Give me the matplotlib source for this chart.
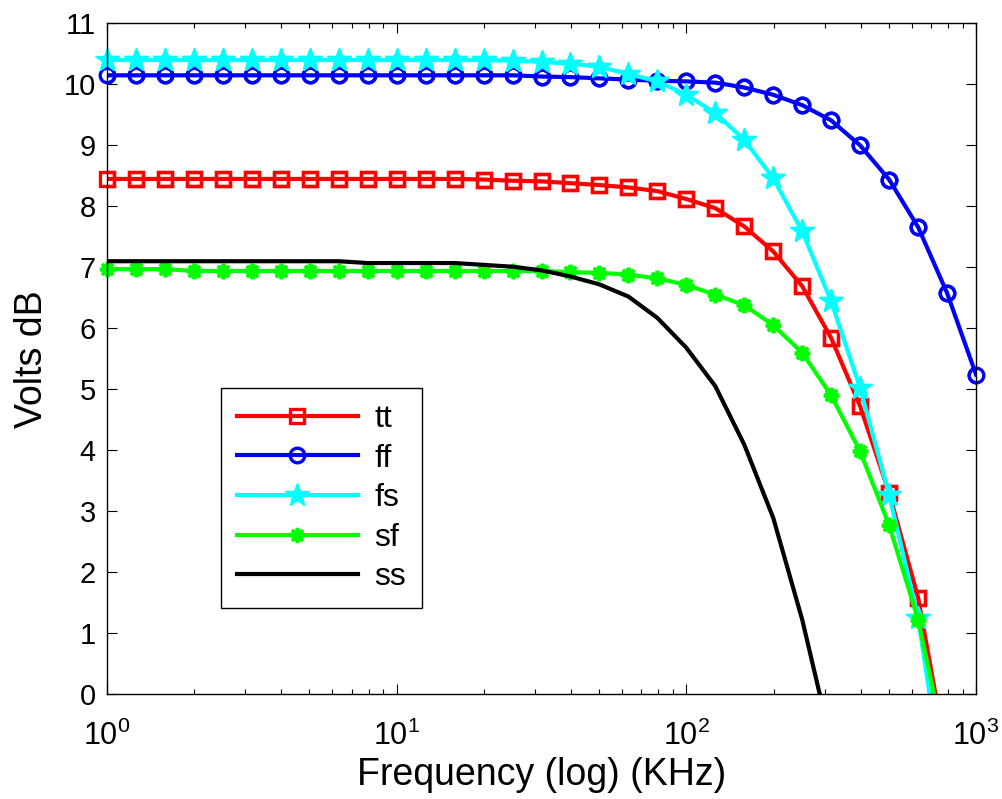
import numpy as np
import matplotlib
matplotlib.use('Agg')
import matplotlib.pyplot as plt
from matplotlib.ticker import LogLocator, NullFormatter

plt.rcParams['font.family'] = ['Liberation Sans', 'DejaVu Sans']
plt.rcParams['mathtext.fontset'] = 'custom'
plt.rcParams['mathtext.rm'] = 'Liberation Sans'
plt.rcParams['mathtext.it'] = 'Liberation Sans:italic'

# frequency points (KHz), 10 per decade
freq = [1.0, 1.259, 1.585, 1.995, 2.512, 3.162, 3.981, 5.012, 6.310, 7.943,
        10.0, 12.59, 15.85, 19.95, 25.12, 31.62, 39.81, 50.12, 63.10, 79.43,
        100.0, 125.9, 158.5, 199.5, 251.2, 316.2, 398.1, 501.2, 631.0, 794.3,
        1000.0]

tt = [8.45, 8.45, 8.45, 8.45, 8.45, 8.45, 8.45, 8.45, 8.45, 8.45,
      8.45, 8.45, 8.45, 8.44, 8.42, 8.41, 8.38, 8.35, 8.31, 8.25,
      8.12, 7.97, 7.67, 7.26, 6.69, 5.84, 4.72, 3.30, 1.58, -1.05]
ff = [10.15, 10.15, 10.15, 10.15, 10.15, 10.15, 10.15, 10.15, 10.15, 10.15,
      10.15, 10.15, 10.15, 10.15, 10.15, 10.13, 10.12, 10.10, 10.08, 10.06,
      10.05, 10.03, 9.95, 9.83, 9.66, 9.41, 9.00, 8.44, 7.66, 6.58,
      5.24]
fs = [10.40, 10.40, 10.40, 10.40, 10.40, 10.40, 10.40, 10.40, 10.40, 10.40,
      10.40, 10.40, 10.40, 10.40, 10.39, 10.37, 10.34, 10.29, 10.17, 10.05,
      9.83, 9.53, 9.09, 8.46, 7.59, 6.44, 5.02, 3.27, 1.25, -1.9]
sf = [6.97, 6.97, 6.97, 6.94, 6.94, 6.94, 6.94, 6.94, 6.94, 6.94,
      6.94, 6.94, 6.94, 6.94, 6.94, 6.94, 6.92, 6.91, 6.88, 6.82,
      6.71, 6.55, 6.38, 6.05, 5.60, 4.90, 3.98, 2.77, 1.22, -1.0]
ss = [7.10, 7.10, 7.10, 7.10, 7.10, 7.10, 7.10, 7.10, 7.10, 7.07,
      7.07, 7.07, 7.07, 7.04, 7.01, 6.95, 6.85, 6.72, 6.52, 6.17,
      5.68, 5.05, 4.09, 2.89, 1.22, -0.8]

fig = plt.figure(figsize=(10.03, 7.99), dpi=100)
ax = fig.add_axes([0.1067, 0.1314, 0.8664, 0.8392])

lw = 3.0
series = [
    ('tt', tt, 'red', dict(marker='s', ms=10, mfc='none', mew=2.4)),
    ('ff', ff, 'blue', dict(marker='o', ms=10.5, mfc='none', mew=2.4)),
    ('fs', fs, 'cyan', dict(marker='*', ms=18, mew=1)),
    ('sf', sf, 'lime', dict(marker=(8, 2, 0), ms=11, mew=2.6)),
    ('ss', ss, 'black', dict()),
]
for name, vals, col, mk in series:
    x = np.array(freq[:len(vals)])
    y = np.array(vals)
    ax.plot(x, y, color=col, lw=lw, mec=col, label=name, **mk)
    if mk:
        # MATLAB does not clip markers at the axes edge
        m = y >= 0
        ax.plot(x[m], y[m], ls='none', mec=col, color=col, clip_on=False, **mk)

ax.set_xscale('log')
ax.set_xlim(1, 1000)
ax.set_ylim(0, 11)
ax.set_yticks(np.arange(0, 12, 1))
ax.xaxis.set_minor_locator(LogLocator(base=10, subs=np.arange(2, 10)))
ax.xaxis.set_minor_formatter(NullFormatter())

ax.tick_params(which='both', direction='in', top=True, right=True,
               labelsize=21, width=0.8, colors='black')
ax.tick_params(which='major', length=7, pad=8)
ax.tick_params(which='minor', length=3.6)
ax.tick_params(axis='x', which='major', labelsize=22, pad=19)
for s in ax.spines.values():
    s.set_linewidth(1.0)

ax.set_xlabel('Frequency (log) (KHz)', fontsize=27, labelpad=4)
ax.set_ylabel('Volts dB', fontsize=27, labelpad=10)

leg = ax.legend(loc='upper left', bbox_to_anchor=(0.1308, 0.4564),
                borderaxespad=0, fontsize=23, fancybox=False, framealpha=1,
                edgecolor='black', handlelength=3.8, handletextpad=0.5,
                labelspacing=0.3, borderpad=0.5, numpoints=1)
leg.get_frame().set_linewidth(1.0)

fig.savefig('out.png', dpi=100)
